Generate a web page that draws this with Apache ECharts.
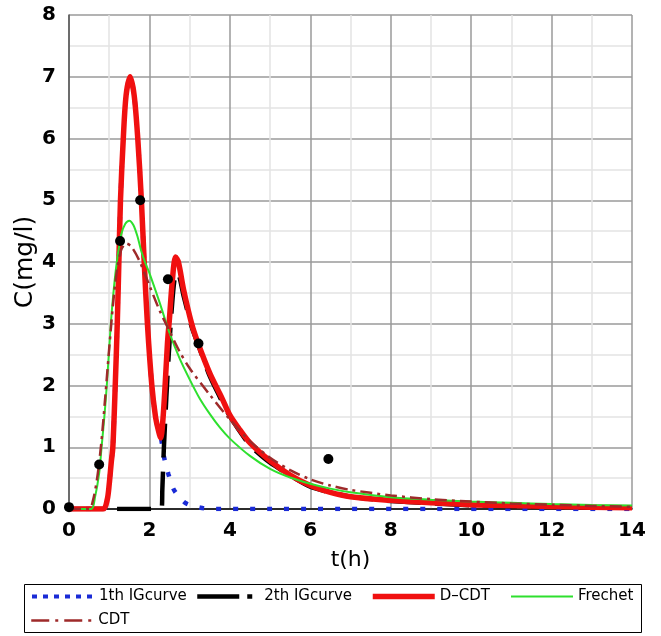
<!DOCTYPE html>
<html>
<head>
<meta charset="utf-8">
<script src="https://cdn.jsdelivr.net/npm/echarts@6/dist/echarts.min.js"></script>
<style>html,body{margin:0;padding:0;background:#fff;}#c{width:661px;height:636px;}</style>
</head>
<body>
<div id="c"></div>
<script>
// ---- data ----
const seriesNames = ['1th IGcurve', '2th IGcurve', 'D\u2013CDT', 'Frechet', 'CDT'];
const xTicks = [0, 2, 4, 6, 8, 10, 12, 14];
const yTicks = [0, 1, 2, 3, 4, 5, 6, 7, 8];

const obsT = [0, 0.75, 1.27, 1.77, 2.46, 3.22, 6.45];
const obsC = [0.03, 0.72, 4.34, 5.0, 3.72, 2.68, 0.81];

const ig1 = [[0,0],[0.85,0],[0.95,0.15],[1.0,0.4],[1.05,0.75],[1.09,1.0],[1.15,2.0],[1.2,3.0],[1.24,4.0],[1.28,5.0],[1.35,6.0],[1.42,6.7],[1.52,7.0],[1.62,6.7],[1.71,6.0],[1.8,5.0],[1.87,4.0],[1.95,3.0],[2.06,2.0],[2.15,1.5],[2.22,1.28],[2.29,1.14],[2.36,0.85],[2.47,0.57],[2.61,0.31],[2.89,0.1],[3.27,0.02],[3.6,0],[14,0]];

const ig2 = [[0,0],[2.3,0],[2.32,0.3],[2.36,1.0],[2.42,1.8],[2.48,2.5],[2.55,3.2],[2.62,3.7],[2.68,3.84],[2.75,3.75],[2.85,3.45],[3.05,2.95],[3.2,2.68],[3.5,2.15],[3.8,1.75],[4.0,1.5],[4.5,1.03],[5,0.75],[6,0.36],[7,0.2],[8,0.13],[10,0.06],[12,0.035],[14,0.02]];

const dcdt = [[0,0],[0.85,0],[0.95,0.15],[1.0,0.4],[1.05,0.75],[1.09,1.0],[1.15,2.0],[1.2,3.0],[1.24,4.0],[1.28,5.0],[1.35,6.0],[1.42,6.7],[1.52,7.0],[1.62,6.7],[1.71,6.0],[1.8,5.0],[1.87,4.0],[1.95,3.0],[2.06,2.0],[2.15,1.5],[2.22,1.28],[2.28,1.15],[2.33,1.4],[2.39,2.0],[2.45,2.7],[2.5,3.1],[2.57,3.7],[2.65,4.08],[2.72,4.0],[2.85,3.55],[3.05,3.0],[3.2,2.7],[3.5,2.2],[3.8,1.8],[4.0,1.52],[4.25,1.28],[4.5,1.07],[5.0,0.78],[5.5,0.55],[6.0,0.38],[6.5,0.27],[7.0,0.2],[8.0,0.14],[9.0,0.1],[10,0.07],[11,0.055],[12,0.04],[13,0.03],[14,0.02]];

const frechet = [[0,0],[0.55,0],[0.65,0.2],[0.75,0.58],[0.81,1.0],[0.88,1.5],[0.94,2.0],[1.04,3.0],[1.12,3.6],[1.19,4.0],[1.3,4.45],[1.4,4.62],[1.5,4.67],[1.6,4.6],[1.7,4.42],[1.8,4.17],[1.9,3.98],[2.0,3.82],[2.25,3.35],[2.5,2.85],[2.75,2.44],[3.0,2.1],[3.25,1.79],[3.5,1.54],[3.75,1.32],[4.0,1.14],[4.5,0.86],[5.0,0.65],[5.5,0.51],[6.0,0.41],[6.5,0.33],[7,0.27],[8,0.19],[9,0.15],[10,0.12],[11,0.1],[12,0.08],[13,0.065],[14,0.055]];

const cdt = [[0,0],[0.5,0],[0.6,0.15],[0.7,0.5],[0.8,1.05],[0.9,1.8],[1.0,2.6],[1.1,3.35],[1.2,3.9],[1.3,4.2],[1.42,4.3],[1.55,4.25],[1.75,4.02],[2.0,3.62],[2.25,3.22],[2.5,2.88],[2.75,2.55],[3.0,2.28],[3.5,1.85],[4.0,1.45],[4.5,1.1],[5.0,0.83],[5.5,0.63],[6.0,0.48],[6.5,0.38],[7,0.31],[8,0.22],[9,0.16],[10,0.12],[11,0.09],[12,0.07],[13,0.05],[14,0.035]];

// ---- chart ----
const FONT = 'DejaVu Sans';
const chart = echarts.init(document.getElementById('c'), null, {renderer: 'canvas'});
const obs = obsT.map((t, i) => [t, obsC[i]]);
const hideSym = {opacity: 0, color: 'rgba(0,0,0,0)', borderWidth: 0};

const legendLine = [
  {type: [5, 6], width: 4, color: '#1a2bd6'},
  {type: [42, 8, 5, 8], width: 4.5, color: '#000'},
  {width: 5.5, color: '#f01010'},
  {width: 2, color: '#2ee02e'},
  {type: [18, 6, 3, 6], width: 2.5, color: '#9e2a2a'}
];
const legendPos = [[30, 589], [195, 589], [370, 589], [510, 589], [30, 613]];
const legends = seriesNames.map((n, i) => ({
  left: legendPos[i][0], top: legendPos[i][1],
  padding: 0, itemWidth: 62, itemHeight: 14,
  itemStyle: hideSym,
  textStyle: {fontFamily: FONT, fontSize: 15, color: '#000'},
  data: [{name: n, itemStyle: hideSym, lineStyle: legendLine[i]}]
}));

chart.setOption({
  animation: false,
  backgroundColor: '#fff',
  grid: {left: 69, right: 29, top: 15, bottom: 127, containLabel: false},
  graphic: [{
    type: 'rect', left: 22, top: 582, z: -1,
    shape: {width: 617, height: 48},
    style: {fill: 'none', stroke: '#000', lineWidth: 1}
  }],
  xAxis: {
    type: 'value', min: xTicks[0], max: xTicks[xTicks.length - 1], interval: 2,
    name: 't(h)', nameLocation: 'middle', nameGap: 40, nameMoveOverlap: false,
    nameTextStyle: {fontFamily: FONT, fontSize: 22, color: '#000'},
    axisLine: {show: true, onZero: false, lineStyle: {color: '#000', width: 1.5}},
    axisTick: {show: false},
    axisLabel: {fontFamily: FONT, fontSize: 20, fontWeight: 'bold', color: '#000', margin: 12},
    splitLine: {show: true, lineStyle: {color: '#9a9a9a', width: 1.5}},
    minorTick: {show: false, splitNumber: 2},
    minorSplitLine: {show: true, lineStyle: {color: '#e3e3e3', width: 1.5}}
  },
  yAxis: {
    type: 'value', min: yTicks[0], max: yTicks[yTicks.length - 1], interval: 1,
    name: 'C(mg/l)', nameLocation: 'middle', nameGap: 31, nameMoveOverlap: false,
    nameTextStyle: {fontFamily: FONT, fontSize: 25, color: '#000'},
    axisLine: {show: true, onZero: false, lineStyle: {color: '#555', width: 1.5}},
    axisTick: {show: false},
    axisLabel: {fontFamily: FONT, fontSize: 20, fontWeight: 'bold', color: '#000', margin: 13},
    splitLine: {show: true, lineStyle: {color: '#9a9a9a', width: 1.5}},
    minorTick: {show: false, splitNumber: 2},
    minorSplitLine: {show: true, lineStyle: {color: '#e3e3e3', width: 1.5}}
  },
  legend: legends,
  series: [
    {name: seriesNames[0], type: 'line', data: ig1, symbol: 'none', smooth: 0.3,
     lineStyle: {color: '#1a2bd6', width: 4.5, type: [5, 12], cap: 'butt'}, itemStyle: {color: '#1a2bd6'}, z: 2},
    {name: seriesNames[1], type: 'line', data: ig2, symbol: 'none', smooth: 0.2,
     lineStyle: {color: '#000', width: 4.5, type: [34, 14], cap: 'butt'}, itemStyle: {color: '#000'}, z: 2},
    {name: seriesNames[2], type: 'line', data: dcdt, symbol: 'none', smooth: 0.3,
     lineStyle: {color: '#f01010', width: 5.5}, itemStyle: {color: '#f01010'}, z: 3},
    {name: seriesNames[3], type: 'line', data: frechet, symbol: 'none', smooth: 0.3,
     lineStyle: {color: '#2ee02e', width: 2}, itemStyle: {color: '#2ee02e'}, z: 4},
    {name: seriesNames[4], type: 'line', data: cdt, symbol: 'none', smooth: 0.3,
     lineStyle: {color: '#9e2a2a', width: 2.5, type: [12, 5, 3, 5]}, itemStyle: {color: '#9e2a2a'}, z: 5},
    {name: 'observed', type: 'scatter', data: obs, symbol: 'circle', symbolSize: 10,
     itemStyle: {color: '#000', opacity: 1}, z: 6}
  ]
});
</script>
</body>
</html>
